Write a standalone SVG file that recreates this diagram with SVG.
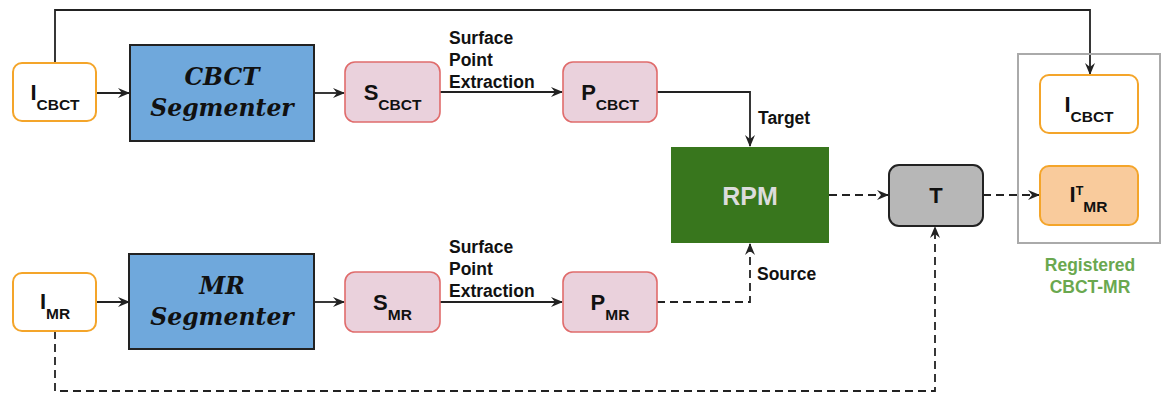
<svg xmlns="http://www.w3.org/2000/svg" width="1162" height="397" viewBox="0 0 1162 397">
  <style>
    .lbl { font-family: "Liberation Sans", Arial, sans-serif; font-weight: bold; fill: #111; }
    .main { font-size: 22px; }
    .sub { font-size: 15.5px; }
    .sup { font-size: 12.5px; }
    .seg { font-family: "DejaVu Serif", serif; font-weight: bold; font-style: italic; font-size: 23.5px; fill: #111; }
    .note { font-family: "Liberation Sans", Arial, sans-serif; font-weight: bold; font-size: 17.5px; fill: #111; }
    .img { fill: #ffffff; stroke: #f4a52a; stroke-width: 2; }
    .pts { fill: #ead1dc; stroke: #e06c6c; stroke-width: 1.6; }
    .segbox { fill: #6fa8dc; stroke: #222; stroke-width: 2; }
    .wire { fill: none; stroke: #222; stroke-width: 1.8; }
    .dash { fill: none; stroke: #222; stroke-width: 1.8; stroke-dasharray: 8 5; }
  </style>
  <defs>
    <marker id="arrow" viewBox="0 0 12 10" refX="11" refY="5" markerWidth="12" markerHeight="10" markerUnits="userSpaceOnUse" orient="auto">
      <path d="M0,0 L12,5 L0,10 L4,5 z" fill="#222"/>
    </marker>
  </defs>

  <rect width="1162" height="397" fill="#ffffff"/>

  <!-- connectors -->
  <g id="connectors">
    <path class="wire" d="M55,63 V10 H1090 V74" marker-end="url(#arrow)"/>
    <path class="wire" d="M96,93 H129" marker-end="url(#arrow)"/>
    <path class="wire" d="M314,93 H344" marker-end="url(#arrow)"/>
    <path class="wire" d="M440,92 H562" marker-end="url(#arrow)"/>
    <path class="wire" d="M657,92 H750 V146" marker-end="url(#arrow)"/>
    <path class="wire" d="M96,302 H129" marker-end="url(#arrow)"/>
    <path class="wire" d="M314,302 H344" marker-end="url(#arrow)"/>
    <path class="wire" d="M440,302 H562" marker-end="url(#arrow)"/>
    <path class="dash" d="M657,302 H750 V244" marker-end="url(#arrow)"/>
    <path class="dash" d="M829,195 H888" marker-end="url(#arrow)"/>
    <path class="dash" d="M983,195 H1039" marker-end="url(#arrow)"/>
    <path class="dash" d="M55,331 V391 H935 V227" marker-end="url(#arrow)"/>

    <text class="note" x="449" y="44">Surface</text>
    <text class="note" x="449" y="66">Point</text>
    <text class="note" x="449" y="88">Extraction</text>
    <text class="note" x="449" y="253">Surface</text>
    <text class="note" x="449" y="275">Point</text>
    <text class="note" x="449" y="297">Extraction</text>
    <text class="note" x="758" y="124">Target</text>
    <text class="note" x="757" y="280">Source</text>
  </g>

  <!-- CBCT branch -->
  <g id="i-cbct">
    <rect class="img" x="13" y="63" width="83" height="58" rx="9"/>
    <text class="lbl main" x="55" y="100" text-anchor="middle">I<tspan class="sub" dy="10">CBCT</tspan></text>
  </g>
  <g id="cbct-segmenter">
    <rect class="segbox" x="130" y="45" width="184" height="96"/>
    <text class="seg" x="222" y="85" text-anchor="middle">CBCT</text>
    <text class="seg" x="222" y="116" text-anchor="middle">Segmenter</text>
  </g>
  <g id="s-cbct">
    <rect class="pts" x="345" y="62" width="95" height="60" rx="10"/>
    <text class="lbl main" x="392.5" y="100" text-anchor="middle">S<tspan class="sub" dy="10">CBCT</tspan></text>
  </g>
  <g id="p-cbct">
    <rect class="pts" x="563" y="62" width="94" height="60" rx="10"/>
    <text class="lbl main" x="610" y="100" text-anchor="middle">P<tspan class="sub" dy="10">CBCT</tspan></text>
  </g>

  <!-- MR branch -->
  <g id="i-mr">
    <rect class="img" x="13" y="273" width="83" height="58" rx="9"/>
    <text class="lbl main" x="55" y="309" text-anchor="middle">I<tspan class="sub" dy="10">MR</tspan></text>
  </g>
  <g id="mr-segmenter">
    <rect class="segbox" x="129" y="254" width="185" height="95"/>
    <text class="seg" x="222" y="294" text-anchor="middle">MR</text>
    <text class="seg" x="222" y="325" text-anchor="middle">Segmenter</text>
  </g>
  <g id="s-mr">
    <rect class="pts" x="345" y="272" width="95" height="60" rx="10"/>
    <text class="lbl main" x="392.5" y="310" text-anchor="middle">S<tspan class="sub" dy="10">MR</tspan></text>
  </g>
  <g id="p-mr">
    <rect class="pts" x="563" y="272" width="94" height="60" rx="10"/>
    <text class="lbl main" x="610" y="310" text-anchor="middle">P<tspan class="sub" dy="10">MR</tspan></text>
  </g>

  <!-- registration -->
  <g id="rpm">
    <rect x="671" y="147" width="158" height="96" fill="#38761d"/>
    <text class="lbl" x="750" y="205" text-anchor="middle" font-size="25" style="fill:#dcdcdc">RPM</text>
  </g>
  <g id="transform">
    <rect x="889" y="165" width="94" height="61" rx="10" fill="#b7b7b7" stroke="#222" stroke-width="2"/>
    <text class="lbl main" x="936" y="203" text-anchor="middle">T</text>
  </g>

  <!-- output group -->
  <g id="registered">
    <rect x="1018" y="54" width="142" height="189" fill="none" stroke="#aaaaaa" stroke-width="2"/>
    <text class="lbl" x="1090" y="271" text-anchor="middle" font-size="17.5" style="fill:#6aa84f">Registered</text>
    <text class="lbl" x="1090" y="293" text-anchor="middle" font-size="17.5" style="fill:#6aa84f">CBCT-MR</text>
  </g>
  <g id="i-cbct-out">
    <rect class="img" x="1040" y="75" width="98" height="58" rx="9"/>
    <text class="lbl main" x="1089" y="112" text-anchor="middle">I<tspan class="sub" dy="10">CBCT</tspan></text>
  </g>
  <g id="i-mr-t">
    <rect x="1040" y="166" width="98" height="59" rx="9" fill="#f9cb9c" stroke="#f4a52a" stroke-width="2"/>
    <text class="lbl main" x="1088.5" y="202" text-anchor="middle">I<tspan class="sup" dy="-7">T</tspan><tspan class="sub" dy="17">MR</tspan></text>
  </g>
</svg>
